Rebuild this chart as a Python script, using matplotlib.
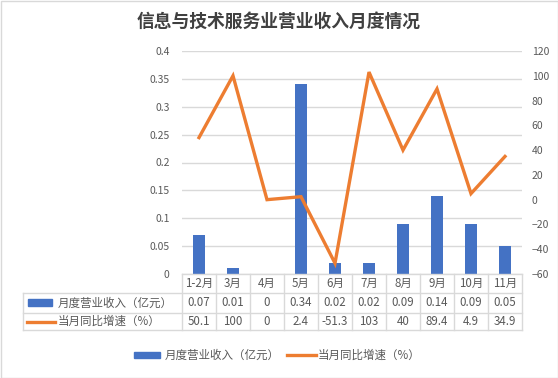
import matplotlib
matplotlib.use("Agg")
import matplotlib.pyplot as plt
from matplotlib.patches import Rectangle
from matplotlib.lines import Line2D

plt.rcParams['font.family'] = ['Noto Sans CJK SC', 'DejaVu Sans']

categories = ['1-2月', '3月', '4月', '5月', '6月', '7月', '8月', '9月', '10月', '11月']
revenue = [0.07, 0.01, 0, 0.34, 0.02, 0.02, 0.09, 0.14, 0.09, 0.05]
growth = [50.1, 100, 0, 2.4, -51.3, 103, 40, 89.4, 4.9, 34.9]
revenue_labels = ['0.07', '0.01', '0', '0.34', '0.02', '0.02', '0.09', '0.14', '0.09', '0.05']
growth_labels = ['50.1', '100', '0', '2.4', '-51.3', '103', '40', '89.4', '4.9', '34.9']
series_names = ['月度营业收入（亿元）', '当月同比增速（%）']
title = '信息与技术服务业营业收入月度情况'

BLUE = '#4472C4'
ORANGE = '#ED7D31'
TXT = '#595959'
GRID = '#D9D9D9'

W, H = 558, 378
fig = plt.figure(figsize=(W / 100, H / 100), dpi=100)

def fx(px):
    return px / W

def fy(py):
    return 1 - py / H

L, R, T, B = 182, 522, 51, 274
ax = fig.add_axes([fx(L), fy(B), fx(R - L), (B - T) / H])
n = len(categories)
xs = list(range(n))
ax.bar(xs, revenue, width=0.33, color=BLUE, zorder=2)
ax.set_xlim(-0.5, n - 0.5)
ax.set_ylim(0, 0.4)
ax.set_yticks([i * 0.05 for i in range(9)])
ax.set_yticklabels(['0', '0.05', '0.1', '0.15', '0.2', '0.25', '0.3', '0.35', '0.4'])
ax.yaxis.grid(True, color=GRID, linewidth=1)
ax.set_axisbelow(True)
ax.set_xticks([])
for s in ['left', 'right', 'top', 'bottom']:
    ax.spines[s].set_visible(False)
ax.tick_params(axis='y', length=0, labelsize=7.5, labelcolor=TXT, pad=9)

ax2 = ax.twinx()
ax2.plot(xs, growth, color=ORANGE, linewidth=2.4, zorder=3, solid_joinstyle='miter')
ax2.set_ylim(-60, 120)
ax2.set_yticks(list(range(-60, 121, 20)))
for s in ['left', 'right', 'top', 'bottom']:
    ax2.spines[s].set_visible(False)
ax2.tick_params(axis='y', length=0, labelsize=7.5, labelcolor=TXT, pad=7)
ax2.set_xlim(-0.5, n - 0.5)

# Data table
rows_y = [274, 293, 313, 330]
TL = 23
FS = 8.3
line_kw = dict(color=GRID, linewidth=1, transform=fig.transFigure)
fig.add_artist(Line2D([fx(L), fx(R)], [fy(274), fy(274)], **line_kw))
for y in rows_y[1:]:
    fig.add_artist(Line2D([fx(TL), fx(R)], [fy(y), fy(y)], **line_kw))
fig.add_artist(Line2D([fx(TL), fx(TL)], [fy(293), fy(330)], **line_kw))
colw = (R - L) / n
for i in range(n + 1):
    x = L + i * colw
    fig.add_artist(Line2D([fx(x), fx(x)], [fy(274), fy(330)], **line_kw))

for i in range(n):
    cx = L + (i + 0.5) * colw
    fig.text(fx(cx), fy(283.5), categories[i], ha='center', va='center', fontsize=FS, color=TXT)
    fig.text(fx(cx), fy(303), revenue_labels[i], ha='center', va='center', fontsize=FS, color=TXT)
    fig.text(fx(cx), fy(321.5), growth_labels[i], ha='center', va='center', fontsize=FS, color=TXT)

fig.add_artist(Rectangle((fx(28), fy(306)), fx(24), (306 - 299) / H, color=BLUE, transform=fig.transFigure))
fig.add_artist(Line2D([fx(27), fx(55)], [fy(321.5), fy(321.5)], color=ORANGE, linewidth=2.4, transform=fig.transFigure))
fig.text(fx(58), fy(303), series_names[0], ha='left', va='center', fontsize=FS, color=TXT)
fig.text(fx(58), fy(321.5), series_names[1], ha='left', va='center', fontsize=FS, color=TXT)

# Legend
fig.add_artist(Rectangle((fx(134), fy(358)), fx(26), 6 / H, color=BLUE, transform=fig.transFigure))
fig.text(fx(165), fy(355), series_names[0], ha='left', va='center', fontsize=FS, color=TXT)
fig.add_artist(Line2D([fx(287), fx(316)], [fy(355), fy(355)], color=ORANGE, linewidth=2.4, transform=fig.transFigure))
fig.text(fx(318), fy(355), series_names[1], ha='left', va='center', fontsize=FS, color=TXT)

# Title
fig.text(0.5, fy(22), title, ha='center', va='center', fontsize=12.8, color='#404040', fontweight='bold')

# Border
fig.add_artist(Rectangle((0.5 / W, 0.5 / H), 1 - 1 / W, 1 - 1 / H, fill=False,
                         edgecolor='#D9D9D9', linewidth=1, transform=fig.transFigure))

fig.savefig('out.png', dpi=100, facecolor='white')
